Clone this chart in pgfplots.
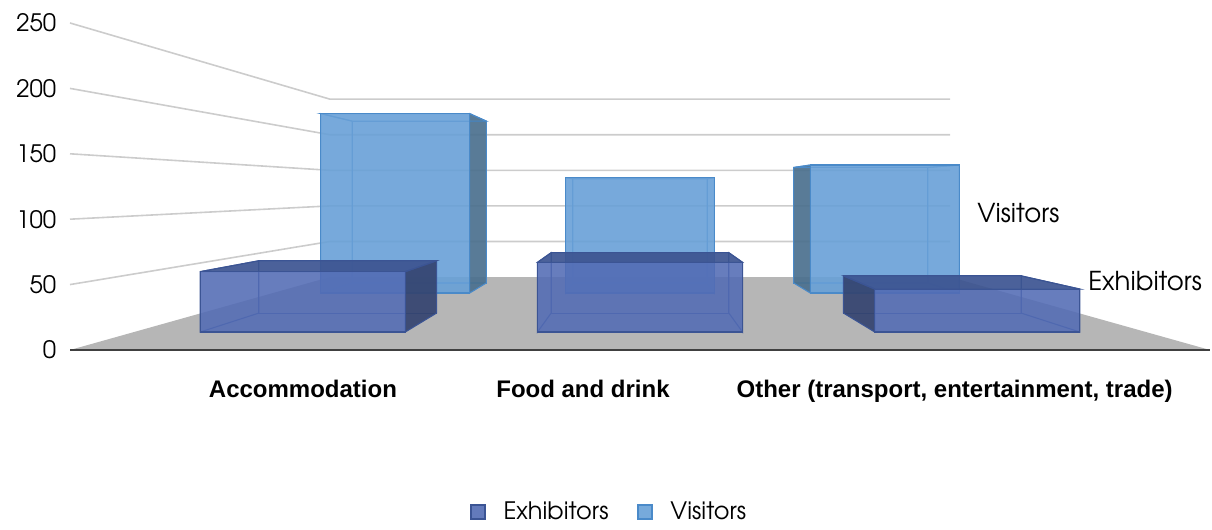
\documentclass[border=0pt]{standalone}
\usepackage{fontspec}
\setmainfont{TeX Gyre Adventor}
\newfontfamily\arialb{Liberation Sans}
\usepackage{pgfplots}
\usepackage{pgfplotstable}
\pgfplotsset{compat=1.18}

\definecolor{exfront}{RGB}{82,107,180}
\definecolor{exside}{RGB}{52,68,112}
\definecolor{extop}{RGB}{60,84,145}
\definecolor{exedge}{RGB}{59,84,148}
\definecolor{vifront}{RGB}{104,160,215}
\definecolor{viside}{RGB}{75,112,142}
\definecolor{vitop}{RGB}{90,140,190}
\definecolor{viedge}{RGB}{74,138,201}
\definecolor{gridc}{RGB}{204,204,204}
\definecolor{floorc}{RGB}{182,182,182}
\definecolor{edgec}{RGB}{64,64,64}

\pgfplotstableread{
cat exhibitors visitors
0 52 213
1 60 137
2 37 152
}\datatable

% perspective: vanishing point at (1, 122.3); depth d in [0,1], f = 1/(1+0.838 d)
\newcommand{\cuboid}[6]{% #1 centre, #2 value, #3 d0, #4 d1, #5 colour prefix, #6 front opacity
 \pgfmathsetmacro\fA{1/(1+0.838*#3)}%
 \pgfmathsetmacro\fB{1/(1+0.838*#4)}%
 \pgfmathsetmacro\xl{#1-0.304}%
 \pgfmathsetmacro\xr{#1+0.304}%
 \pgfmathsetmacro\FLx{1+(\xl-1)*\fA}%
 \pgfmathsetmacro\FRx{1+(\xr-1)*\fA}%
 \pgfmathsetmacro\BLx{1+(\xl-1)*\fB}%
 \pgfmathsetmacro\BRx{1+(\xr-1)*\fB}%
 \pgfmathsetmacro\FBy{122.3*(1-\fA)}%
 \pgfmathsetmacro\BBy{122.3*(1-\fB)}%
 \pgfmathsetmacro\FTy{122.3+(#2-122.3)*\fA}%
 \pgfmathsetmacro\BTy{122.3+(#2-122.3)*\fB}%
 \pgfmathsetmacro\opL{(\xl>1)*0.92}%
 \pgfmathsetmacro\opR{(\xr<1)*0.92}%
 \pgfmathsetmacro\opT{(#2<122.3)*0.92}%
 \edef\tmp{\noexpand\addplot[forget plot, draw=#5edge, line width=0.8pt]
   coordinates {(\BLx,\BBy) (\BRx,\BBy) (\BRx,\BTy) (\BLx,\BTy)} -- cycle;}\tmp
 \edef\tmp{\noexpand\addplot[forget plot, draw=#5edge, line width=0.8pt, fill=#5side, fill opacity=\opL]
   coordinates {(\FLx,\FBy) (\BLx,\BBy) (\BLx,\BTy) (\FLx,\FTy)} -- cycle;}\tmp
 \edef\tmp{\noexpand\addplot[forget plot, draw=#5edge, line width=0.8pt, fill=#5side, fill opacity=\opR]
   coordinates {(\FRx,\FBy) (\BRx,\BBy) (\BRx,\BTy) (\FRx,\FTy)} -- cycle;}\tmp
 \edef\tmp{\noexpand\addplot[forget plot, draw=#5edge, line width=0.8pt, fill=#5top, fill opacity=\opT]
   coordinates {(\FLx,\FTy) (\FRx,\FTy) (\BRx,\BTy) (\BLx,\BTy)} -- cycle;}\tmp
 \edef\tmp{\noexpand\addplot[forget plot, draw=#5edge, line width=0.8pt, fill=#5front, fill opacity=#6]
   coordinates {(\FLx,\FBy) (\FRx,\FBy) (\FRx,\FTy) (\FLx,\FTy)} -- cycle;}\tmp
}

\newcommand{\gridline}[1]{%
 \pgfmathsetmacro\gy{122.3+(#1-122.3)*0.544}%
 \edef\tmp{\noexpand\addplot[forget plot, draw=gridc, line width=1.2pt]
   coordinates {(-0.5,#1) (0.184,\gy) (1.816,\gy)};}\tmp
}

\begin{document}
\begin{tikzpicture}
\useasboundingbox (0pt,0pt) rectangle (909pt,397.5pt);
\begin{axis}[
  at={(52.5pt,135pt)}, anchor=south west,
  scale only axis, width=855pt, height=245.25pt,
  xmin=-0.5, xmax=2.5, ymin=0, ymax=250,
  clip=false,
  axis line style={draw=none},
  tick style={draw=none},
  ytick={0,50,...,250},
  xtick={0.113,0.85,1.828},
  xticklabels={Accommodation, Food and drink, {Other (transport, entertainment, trade)}},
  xticklabel style={font=\arialb\bfseries\fontsize{18}{20}\selectfont, yshift=-19pt},
  yticklabel style={font=\fontsize{18}{20}\selectfont, xshift=-6.75pt},
  /pgf/number format/assume math mode=true,
  legend style={at={(0.4737,-0.4954)}, anchor=center, draw=none, fill=none,
    font=\fontsize{18}{20}\selectfont, legend columns=2,
    /tikz/every odd column/.append style={column sep=12pt},
    /tikz/every even column/.append style={column sep=20pt}},
]
% walls
\gridline{50}\gridline{100}\gridline{150}\gridline{200}\gridline{250}
% floor
\addplot[forget plot, draw=none, fill=floorc] coordinates {(-0.5,0) (2.5,0) (1.816,55.77) (0.184,55.77)} -- cycle;
\addplot[forget plot, draw=edgec, line width=2.2pt] coordinates {(-0.5,0) (2.5,0)};
% visitors (back row)
\pgfplotstablegetelem{0}{visitors}\of\datatable \cuboid{0}{\pgfplotsretval}{0.66}{0.86}{vi}{0.9}
\pgfplotstablegetelem{1}{visitors}\of\datatable \cuboid{1}{\pgfplotsretval}{0.66}{0.86}{vi}{0.9}
\pgfplotstablegetelem{2}{visitors}\of\datatable \cuboid{2}{\pgfplotsretval}{0.66}{0.86}{vi}{0.9}
% exhibitors (front row)
\pgfplotstablegetelem{0}{exhibitors}\of\datatable \cuboid{0}{\pgfplotsretval}{0.151}{0.358}{ex}{0.88}
\pgfplotstablegetelem{1}{exhibitors}\of\datatable \cuboid{1}{\pgfplotsretval}{0.151}{0.358}{ex}{0.88}
\pgfplotstablegetelem{2}{exhibitors}\of\datatable \cuboid{2}{\pgfplotsretval}{0.151}{0.358}{ex}{0.88}
% series labels
\node[anchor=west, inner sep=0pt, font=\fontsize{19.5}{22}\selectfont] at (axis cs:1.887,104.7) {Visitors};
\node[anchor=west, inner sep=0pt, font=\fontsize{19.5}{22}\selectfont] at (axis cs:2.179,52.75) {Exhibitors};
% legend
\addlegendimage{only marks, mark=square*, mark size=5.2pt, mark options={fill=exfront!90!white, draw=exedge, line width=1pt}}
\addlegendentry{Exhibitors}
\addlegendimage{only marks, mark=square*, mark size=5.2pt, mark options={fill=vifront!90!white, draw=viedge, line width=1pt}}
\addlegendentry{Visitors}
\end{axis}
\end{tikzpicture}
\end{document}
